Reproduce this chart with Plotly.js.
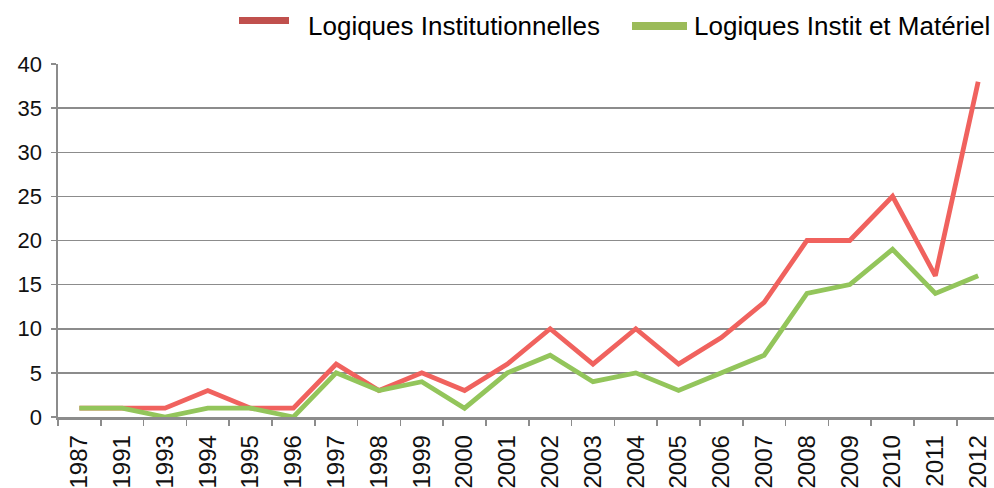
<!DOCTYPE html>
<html>
<head>
<meta charset="utf-8">
<script src="https://cdn.plot.ly/plotly-3.0.1.min.js"></script>
<style>html,body{margin:0;padding:0;background:#fff;}#chart{width:994px;height:488px;}</style>
</head>
<body>
<div id="chart"></div>
<script>
const years = ['1987','1991','1993','1994','1995','1996','1997','1998','1999','2000','2001','2002','2003','2004','2005','2006','2007','2008','2009','2010','2011','2012'];
const institutionnelles = [1,1,1,3,1,1,6,3,5,3,6,10,6,10,6,9,13,20,20,25,16,38];
const institMateriel = [1,1,0,1,1,0,5,3,4,1,5,7,4,5,3,5,7,14,15,19,14,16];
const seriesNames = ['Logiques Institutionnelles', 'Logiques Instit et Matériel'];

const font = 'Liberation Sans, Arial, sans-serif';
const traces = [
  {x: years, y: institutionnelles, type: 'scatter', mode: 'lines', name: seriesNames[0],
   line: {color: '#f0625e', width: 4.8}, showlegend: false},
  {x: years, y: institMateriel, type: 'scatter', mode: 'lines', name: seriesNames[1],
   line: {color: '#93c55b', width: 4.8}, showlegend: false}
];
const H = 353, B = 417, L = 58, W = 936;
const px = v => (v - L) / W;
const py = v => (B - v) / H;
const layout = {
  width: 994, height: 488,
  margin: {l: 58, r: 0, t: 64, b: 71},
  paper_bgcolor: '#fff', plot_bgcolor: '#fff',
  font: {family: font, color: '#1a1a2e'},
  xaxis: {
    type: 'category', range: [-0.5, 21.37],
    tickson: 'boundaries', ticks: 'outside', ticklen: 6, tickcolor: '#8c8c8c', tickwidth: 1.5,
    showline: true, linecolor: '#8c8c8c', linewidth: 2.5, ticklabelstandoff: 6,
    showgrid: false, tickangle: -90, tickfont: {size: 24, family: font, color: '#111'},
    fixedrange: true
  },
  yaxis: {
    range: [0, 40], dtick: 5, ticks: 'outside', ticklen: 5, tickcolor: '#8c8c8c', tickwidth: 1.5,
    showline: true, linecolor: '#8c8c8c', linewidth: 2.5, ticklabelstandoff: 4,
    showgrid: true, gridcolor: '#8c8c8c', gridwidth: 1.5, zeroline: false,
    tickfont: {size: 22, family: font, color: '#111'}, fixedrange: true
  },
  shapes: [
    {type: 'rect', xref: 'paper', yref: 'paper', x0: px(239), x1: px(289),
     y0: py(24), y1: py(17), fillcolor: '#c0504d', line: {width: 0}},
    {type: 'rect', xref: 'paper', yref: 'paper', x0: px(632), x1: px(687),
     y0: py(30), y1: py(22), fillcolor: '#9bbb59', line: {width: 0}}
  ],
  annotations: [
    {xref: 'paper', yref: 'paper', x: px(306), y: py(26), xanchor: 'left', yanchor: 'middle',
     text: seriesNames[0], showarrow: false, font: {size: 26, family: font, color: '#000'}},
    {xref: 'paper', yref: 'paper', x: px(692), y: py(26), xanchor: 'left', yanchor: 'middle',
     text: seriesNames[1], showarrow: false, font: {size: 26, family: font, color: '#000'}}
  ]
};
Plotly.newPlot('chart', traces, layout, {displayModeBar: false, staticPlot: true});
</script>
</body>
</html>
